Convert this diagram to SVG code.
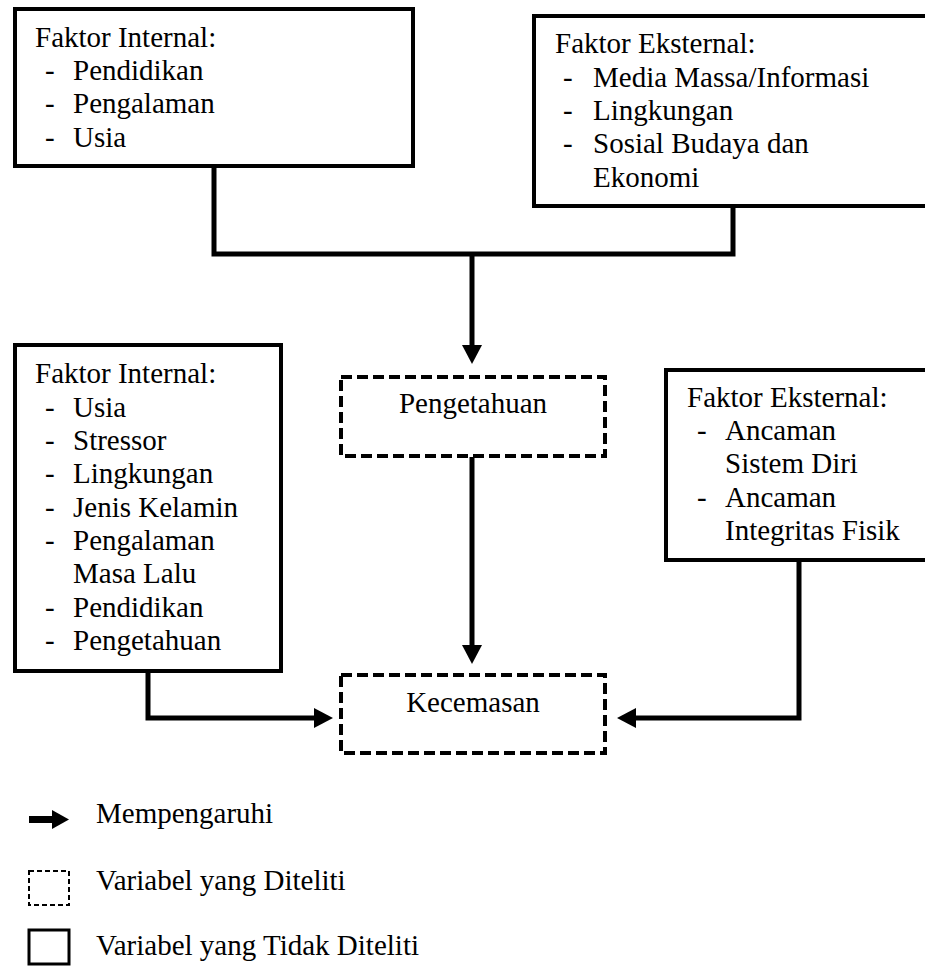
<svg xmlns="http://www.w3.org/2000/svg" width="925" height="967" viewBox="0 0 925 967">
<style>
text{font-family:'Liberation Serif','Tinos','Times New Roman','DejaVu Serif',serif;font-size:29px;fill:#000}
.box{fill:#fff;stroke:#000;stroke-width:4}
.dbox{fill:#fff;stroke:#000;stroke-width:4;stroke-dasharray:11 5}
.conn{fill:none;stroke:#000;stroke-width:5}
.mid{text-anchor:middle}
</style>
<defs>
<marker id="ah" markerUnits="userSpaceOnUse" markerWidth="19" markerHeight="20" viewBox="0 0 19 20" refX="0" refY="10" orient="auto">
<path d="M0,0 L19,10 L0,20 z" fill="#000"/>
</marker>
</defs>
<g id="connectors">
<path class="conn" d="M214 166 V254 H733 V206"/>
<path class="conn" d="M472 254 V345" marker-end="url(#ah)"/>
<path class="conn" d="M472 457 V645" marker-end="url(#ah)"/>
<path class="conn" d="M148 671 V718 H314" marker-end="url(#ah)"/>
<path class="conn" d="M799 560 V718 H636" marker-end="url(#ah)"/>
</g>
<g id="faktor-internal-1">
<rect class="box" x="15" y="9" width="398" height="157"/>
<text x="35" y="47">Faktor Internal:</text>
<text x="45" y="80">-</text><text x="73" y="80">Pendidikan</text>
<text x="45" y="113">-</text><text x="73" y="113">Pengalaman</text>
<text x="45" y="147">-</text><text x="73" y="147">Usia</text>
</g>
<g id="faktor-eksternal-1">
<rect class="box" x="534" y="16" width="400" height="190"/>
<text x="555" y="53">Faktor Eksternal:</text>
<text x="563" y="87">-</text><text x="593" y="87">Media Massa/Informasi</text>
<text x="563" y="120">-</text><text x="593" y="120">Lingkungan</text>
<text x="563" y="153">-</text><text x="593" y="153">Sosial Budaya dan</text>
<text x="593" y="187">Ekonomi</text>
</g>
<g id="pengetahuan">
<rect class="dbox" x="341" y="377" width="264" height="79"/>
<text class="mid" x="473" y="413">Pengetahuan</text>
</g>
<g id="faktor-internal-2">
<rect class="box" x="15" y="345" width="266" height="326"/>
<text x="35" y="383">Faktor Internal:</text>
<text x="45" y="417">-</text><text x="73" y="417">Usia</text>
<text x="45" y="450">-</text><text x="73" y="450">Stressor</text>
<text x="45" y="483">-</text><text x="73" y="483">Lingkungan</text>
<text x="45" y="517">-</text><text x="73" y="517">Jenis Kelamin</text>
<text x="45" y="550">-</text><text x="73" y="550">Pengalaman</text>
<text x="73" y="583">Masa Lalu</text>
<text x="45" y="617">-</text><text x="73" y="617">Pendidikan</text>
<text x="45" y="650">-</text><text x="73" y="650">Pengetahuan</text>
</g>
<g id="faktor-eksternal-2">
<rect class="box" x="666" y="370" width="270" height="190"/>
<text x="687" y="407">Faktor Eksternal:</text>
<text x="697" y="440">-</text><text x="725" y="440">Ancaman</text>
<text x="725" y="473">Sistem Diri</text>
<text x="697" y="507">-</text><text x="725" y="507">Ancaman</text>
<text x="725" y="540">Integritas Fisik</text>
</g>
<g id="kecemasan">
<rect class="dbox" x="341" y="675" width="264" height="78"/>
<text class="mid" x="473" y="712">Kecemasan</text>
</g>
<g id="legend">
<rect x="29" y="816" width="24" height="7" fill="#000"/>
<polygon points="52,810 69,819.5 52,829" fill="#000"/>
<text x="96" y="823">Mempengaruhi</text>
<rect x="29" y="871" width="40" height="34" fill="none" stroke="#000" stroke-width="2" stroke-dasharray="5 3"/>
<text x="96" y="890">Variabel yang Diteliti</text>
<rect x="29" y="930" width="40" height="34" fill="none" stroke="#000" stroke-width="3"/>
<text x="96" y="955">Variabel yang Tidak Diteliti</text>
</g>
</svg>
